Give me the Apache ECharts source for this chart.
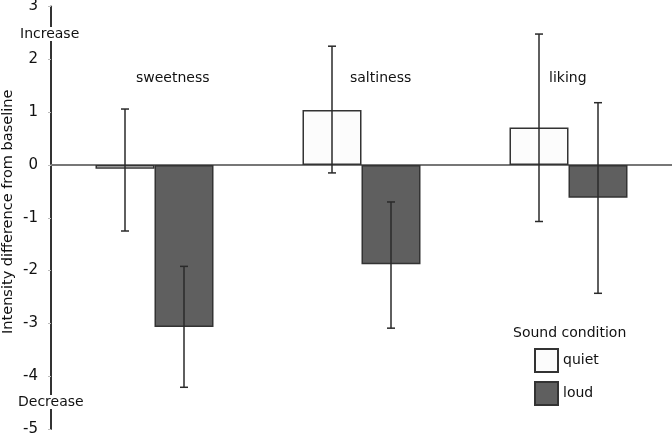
<!DOCTYPE html>
<html><head><meta charset="utf-8">
<script src="https://cdn.jsdelivr.net/npm/echarts@6/dist/echarts.min.js"></script>
<style>html,body{margin:0;padding:0;background:#fff}#c{width:672px;height:436px}</style>
</head><body><div id="c"></div>
<script>
const categories = ['sweetness', 'saltiness', 'liking'];
const quietMean = [-0.07, 1.04, 0.71];
const quietLow = [-1.25, -0.15, -1.07];
const quietHigh = [1.06, 2.25, 2.48];
const loudMean = [-3.07, -1.88, -0.62];
const loudLow = [-4.21, -3.09, -2.43];
const loudHigh = [-1.92, -0.70, 1.18];
const yTicks = [-5, -4, -3, -2, -1, 0, 1, 2, 3];

const FONT = 'DejaVu Sans';
const BAR_W = 59;

function errData(low, high) { return categories.map((c, i) => [i, low[i], high[i]]); }
function errRender(side) {
  return function (params, api) {
    const x = api.value(0);
    const p1 = api.coord([x, api.value(1)]);
    const p2 = api.coord([x, api.value(2)]);
    const cx = p1[0] + side * BAR_W / 2;
    const cap = 4;
    const st = { stroke: '#2a2a2a', lineWidth: 1.5 };
    return { type: 'group', children: [
      { type: 'line', shape: { x1: cx, y1: p1[1], x2: cx, y2: p2[1] }, style: st },
      { type: 'line', shape: { x1: cx - cap, y1: p1[1], x2: cx + cap, y2: p1[1] }, style: st },
      { type: 'line', shape: { x1: cx - cap, y1: p2[1], x2: cx + cap, y2: p2[1] }, style: st }
    ]};
  };
}

const chart = echarts.init(document.getElementById('c'));
chart.setOption({
  animation: false,
  textStyle: { fontFamily: FONT },
  grid: { left: 51, right: 0, top: 6.6, bottom: 7, containLabel: false, outerBoundsMode: 'none' },
  xAxis: {
    type: 'category', data: categories,
    axisLine: { onZero: true, lineStyle: { color: '#777', width: 2 } },
    axisTick: { show: false }, axisLabel: { show: false }, splitLine: { show: false }
  },
  yAxis: {
    type: 'value', min: -5, max: 3, interval: 1,
    name: 'Intensity difference from baseline', nameLocation: 'middle', nameGap: 35,
    nameMoveOverlap: false,
    nameTextStyle: { fontFamily: FONT, fontSize: 14.5, color: '#111', padding: [0, 0, 0, 12] },
    axisLine: { show: true, lineStyle: { color: '#333', width: 2 } },
    axisTick: { show: true, length: 3, lineStyle: { color: '#bbb' } },
    axisLabel: { fontFamily: FONT, fontSize: 15, color: '#111', margin: 13,
      formatter: v => yTicks.includes(v) ? String(v) : '' },
    splitLine: { show: false }
  },
  legend: {
    orient: 'vertical', left: 534, top: 348, itemWidth: 23, itemHeight: 23, itemGap: 8,
    icon: 'rect', padding: 0,
    textStyle: { fontFamily: FONT, fontSize: 14, color: '#111' },
    data: ['quiet', 'loud']
  },
  series: [
    { name: 'quiet', type: 'bar', data: quietMean, barWidth: BAR_W, barGap: '0%',
      itemStyle: { color: '#fcfcfc', borderColor: '#333', borderWidth: 1.5 } },
    { name: 'loud', type: 'bar', data: loudMean, barWidth: BAR_W, barGap: '0%',
      itemStyle: { color: '#5f5f5f', borderColor: '#333', borderWidth: 1.5 } },
    { type: 'custom', data: errData(quietLow, quietHigh), renderItem: errRender(-1), z: 10,
      encode: { x: 0, y: [1, 2] } },
    { type: 'custom', data: errData(loudLow, loudHigh), renderItem: errRender(1), z: 10,
      encode: { x: 0, y: [1, 2] } }
  ],
  graphic: [
    { type: 'text', left: 20, top: 27, z: 100, style: { text: 'Increase', font: '14px "' + FONT + '"', fill: '#111', backgroundColor: '#fff' } },
    { type: 'text', left: 18, top: 395, z: 100, style: { text: 'Decrease', font: '14px "' + FONT + '"', fill: '#111', backgroundColor: '#fff' } },
    { type: 'text', left: 136, top: 71, style: { text: 'sweetness', font: '14px "' + FONT + '"', fill: '#111' } },
    { type: 'text', left: 350, top: 71, style: { text: 'saltiness', font: '14px "' + FONT + '"', fill: '#111' } },
    { type: 'text', left: 549, top: 71, style: { text: 'liking', font: '14px "' + FONT + '"', fill: '#111' } },
    { type: 'text', left: 513, top: 326, style: { text: 'Sound condition', font: '14px "' + FONT + '"', fill: '#111' } }
  ]
});
</script></body></html>
